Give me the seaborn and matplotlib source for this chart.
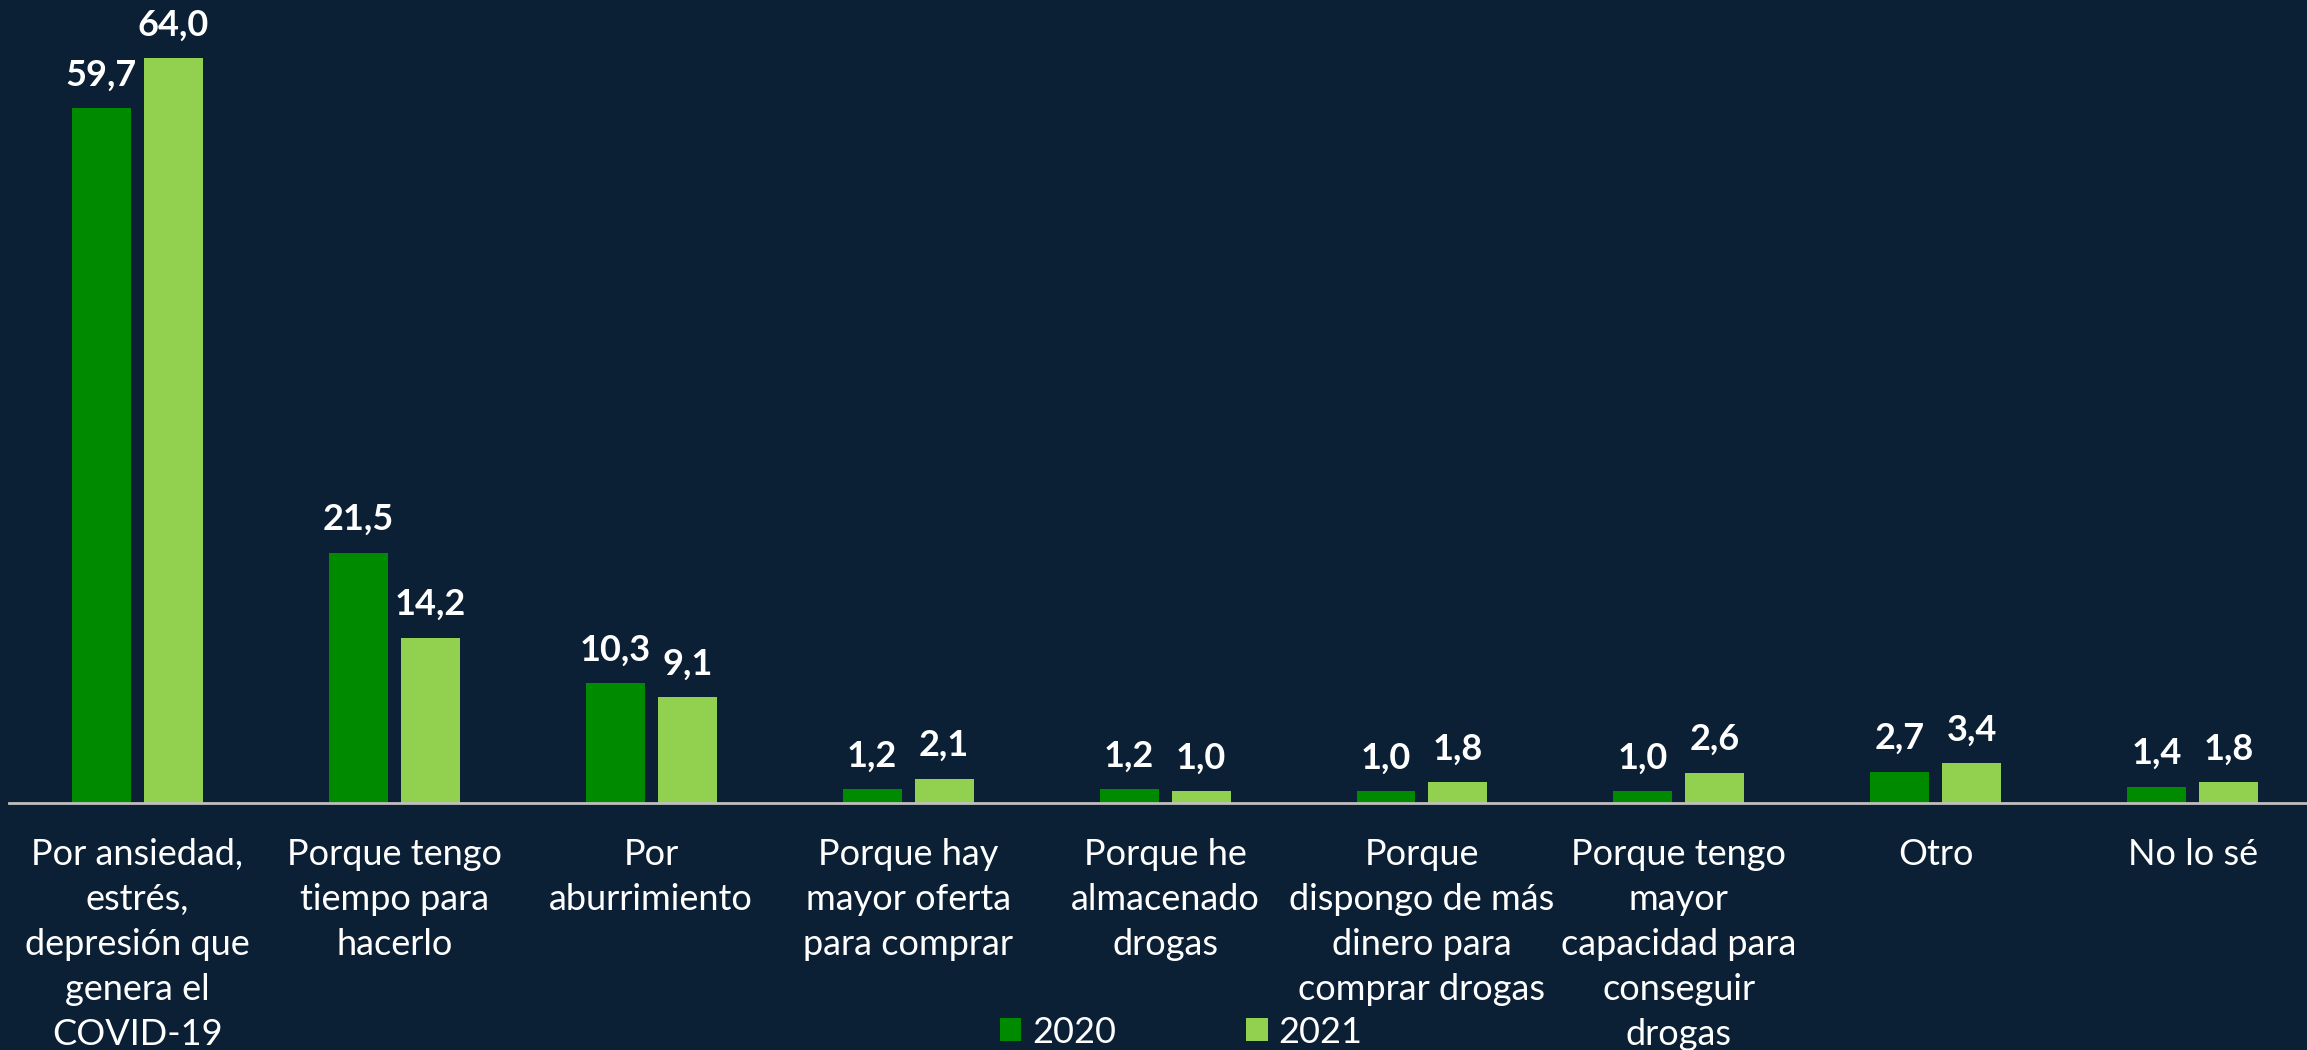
import matplotlib
matplotlib.use("Agg")
import matplotlib.pyplot as plt
import pandas as pd
import seaborn as sns

# ---------------------------------------------------------------------------
# Data
# ---------------------------------------------------------------------------
CATEGORIES = [
    "Por ansiedad,\nestrés,\ndepresión que\ngenera el\nCOVID-19",
    "Porque tengo\ntiempo para\nhacerlo",
    "Por\naburrimiento",
    "Porque hay\nmayor oferta\npara comprar",
    "Porque he\nalmacenado\ndrogas",
    "Porque\ndispongo de más\ndinero para\ncomprar drogas",
    "Porque tengo\nmayor\ncapacidad para\nconseguir\ndrogas",
    "Otro",
    "No lo sé",
]
VALUES_2020 = [59.7, 21.5, 10.3, 1.2, 1.2, 1.0, 1.0, 2.7, 1.4]
VALUES_2021 = [64.0, 14.2, 9.1, 2.1, 1.0, 1.8, 2.6, 3.4, 1.8]
YEARS = ["2020", "2021"]

BG = "#0b1f35"
COLORS = {"2020": "#008a00", "2021": "#92d050"}
FONT = ["Lato", "DejaVu Sans"]

df = pd.DataFrame({
    "cat": CATEGORIES * 2,
    "value": VALUES_2020 + VALUES_2021,
    "year": [YEARS[0]] * len(CATEGORIES) + [YEARS[1]] * len(CATEGORIES),
})

sns.set_style("dark")
plt.rcParams["font.family"] = FONT

fig = plt.figure(figsize=(23.07, 10.5), dpi=100, facecolor=BG)
ax = fig.add_axes([0.0039, 0.2352, 0.9961, 0.7648])
ax.set_facecolor(BG)

sns.barplot(
    data=df, x="cat", y="value", hue="year", palette=COLORS,
    width=0.56, gap=0.18, saturation=1, linewidth=0, edgecolor="none", ax=ax,
)

ax.set_xlim(-0.5, 8.445)
ax.set_ylim(0, 69)

# value labels with decimal comma
for cont in ax.containers:
    labels = [f"{b.get_height():.1f}".replace(".", ",") for b in cont]
    ax.bar_label(cont, labels=labels, padding=12, color="white",
                 fontsize=26, fontweight="bold")

ax.set_xlabel("")
ax.set_ylabel("")
ax.set_yticks([])
ax.tick_params(axis="x", length=0, pad=25, colors="white", labelsize=26)
for lbl in ax.get_xticklabels():
    lbl.set_ha("center")
    lbl.set_linespacing(1.45)

for side in ["top", "right", "left"]:
    ax.spines[side].set_visible(False)
ax.spines["bottom"].set_visible(True)
ax.spines["bottom"].set_color("#bfbfbf")
ax.spines["bottom"].set_linewidth(2)
ax.grid(False)

handles, labels = ax.get_legend_handles_labels()
ax.legend_.remove()
fig.legend(
    handles, labels, loc="center", bbox_to_anchor=(0.512, 0.017), ncol=2,
    frameon=False, fontsize=26, labelcolor="white",
    handlelength=0.6, handleheight=0.6, handletextpad=0.3, columnspacing=3.6,
)

fig.savefig("out.png", dpi=100, facecolor=BG)
